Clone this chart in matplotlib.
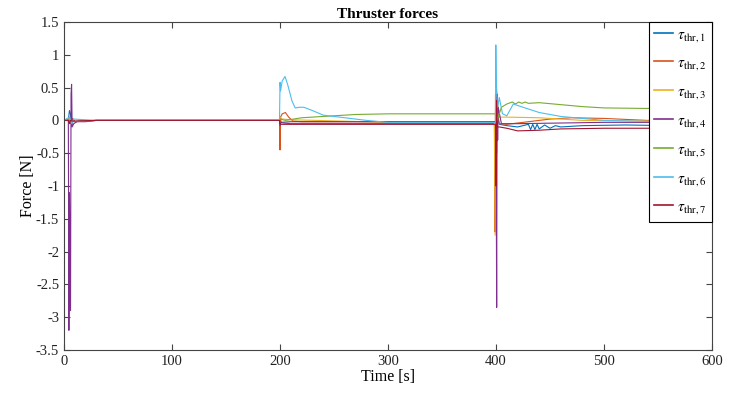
import numpy as np
import matplotlib.pyplot as plt

plt.rcParams['font.family'] = ['Liberation Serif', 'DejaVu Serif']
plt.rcParams['mathtext.fontset'] = 'stix'

# thruster force histories (time [s], force [N])
t1 = [0, 4, 5, 6, 7, 8, 10, 15, 30, 199.5, 200, 201, 203, 210, 230, 300, 399.5,
      400, 400.5, 401, 403, 410, 420, 430, 432, 434, 436, 438, 440, 445, 450, 455,
      460, 480, 520, 560, 600]
f1 = [0, 0, 0.15, 0.1, -0.05, 0.02, -0.02, -0.01, 0, 0, 0.05, -0.03, -0.04, -0.05,
      -0.05, -0.05, -0.05, 0.3, -0.5, 0.1, -0.06, -0.08, -0.1, -0.06, -0.14, -0.06,
      -0.14, -0.06, -0.13, -0.07, -0.12, -0.08, -0.1, -0.08, -0.07, -0.08, -0.07]

t2 = [0, 5, 6, 8, 10, 30, 199.5, 200, 200.5, 202, 205, 208, 212, 220, 300, 398.5,
      399, 399.5, 400.8, 401.5, 403, 410, 430, 450, 470, 500, 540, 600]
f2 = [0, 0, -0.05, 0.03, -0.02, 0, 0, -0.45, 0.05, 0.1, 0.12, 0.05, -0.01, -0.02,
      -0.02, -0.02, -1.7, 0.4, -0.2, 0.1, -0.05, -0.06, -0.02, 0.02, 0.04, 0.03, 0.0, 0.0]

t3 = [0, 5, 8, 30, 199.5, 200, 202, 210, 300, 398.5, 399.2, 400.4, 401, 403, 410,
      440, 480, 600]
f3 = [0, 0.03, -0.02, 0, 0, 0.05, 0.02, 0.01, -0.03, -0.03, -1.75, 0.5, 0.35, 0.05,
      0.05, 0.04, 0.0, -0.02]

t4 = [0, 4, 4.5, 5, 6, 6.5, 7, 7.5, 9, 12, 20, 30, 199.5, 200, 201, 210, 300, 400,
      400.6, 401, 401.5, 402, 405, 420, 500, 600]
f4 = [0, 0, -3.2, -1.1, -2.9, 0.4, 0.55, -0.1, -0.05, -0.02, -0.02, 0, 0, -0.08,
      -0.03, -0.02, -0.02, -0.02, -2.85, 0.4, -0.3, 0.2, -0.05, -0.05, -0.03, -0.03]

t5 = [0, 5, 8, 30, 199.5, 200, 205, 220, 250, 270, 300, 399.5, 400, 400.5, 401, 403,
      405, 410, 415, 418, 421, 424, 427, 430, 440, 460, 480, 500, 550, 600]
f5 = [0, 0.02, -0.02, 0, 0, 0.02, 0.0, 0.04, 0.07, 0.09, 0.1, 0.1, -0.5, 0.3, 0.0,
      0.1, 0.2, 0.25, 0.28, 0.25, 0.28, 0.26, 0.28, 0.26, 0.27, 0.24, 0.21, 0.19, 0.18, 0.17]

t6 = [0, 5, 7, 9, 30, 199.5, 200, 200.5, 202, 204.6, 207, 211, 214, 218, 222, 230,
      240, 260, 280, 300, 399.5, 399.8, 400.2, 400.6, 401.5, 403, 406, 410, 416, 425,
      440, 460, 500, 550, 600]
f6 = [0, 0.05, -0.05, 0.02, 0, 0, 0.58, 0.45, 0.6, 0.67, 0.55, 0.3, 0.19, 0.2, 0.2,
      0.15, 0.08, 0.04, 0.0, -0.03, -0.03, 1.15, 0.6, 0.45, 0.2, 0.35, 0.1, 0.07, 0.25,
      0.2, 0.12, 0.06, 0.0, -0.02, -0.02]

t7 = [0, 4, 5, 6, 8, 30, 199.5, 200, 201, 210, 300, 399.5, 400, 400.5, 401, 403, 410,
      420, 440, 460, 500, 600]
f7 = [0, 0, -0.05, 0.0, -0.01, 0, 0, -0.05, -0.06, -0.06, -0.06, -0.06, -1.0, 0.3,
      -0.1, -0.1, -0.12, -0.16, -0.15, -0.13, -0.12, -0.12]

times = [t1, t2, t3, t4, t5, t6, t7]
forces = [f1, f2, f3, f4, f5, f6, f7]
labels = [r'$\tau_{\mathrm{thr},%d}$' % (i + 1) for i in range(7)]
colors = ['#0072BD', '#D95319', '#EDB120', '#7E2F8E', '#77AC30', '#4DBEEE', '#A2142F']

fig = plt.figure(figsize=(7.48, 3.99), dpi=100)
ax = fig.add_axes([0.0856, 0.1228, 0.8663, 0.8221])
for t, f, c, lab in zip(times, forces, colors, labels):
    ax.plot(t, f, color=c, lw=0.8, label=lab)

ax.set_xlim(0, 600)
ax.set_ylim(-3.5, 1.5)
ax.set_xticks(range(0, 700, 100))
ax.set_yticks(np.arange(-3.5, 1.6, 0.5))
ax.set_yticklabels(['-3.5', '-3', '-2.5', '-2', '-1.5', '-1', '-0.5', '0', '0.5', '1', '1.5'])
ax.tick_params(direction='in', top=True, right=True, labelsize=10.5, length=4,
               color='#444444', labelcolor='#222222')
for s in ax.spines.values():
    s.set_color('#444444')
ax.set_xlabel('Time [s]', fontsize=11.5, labelpad=1)
ax.set_ylabel('Force [N]', fontsize=11.5, labelpad=0)
ax.set_title('Thruster forces', fontsize=11, fontweight='bold', pad=3)
leg = ax.legend(loc='upper right', fontsize=11, labelspacing=0.82, handlelength=1.2,
                handletextpad=0.3, borderaxespad=0, fancybox=False, framealpha=1,
                edgecolor='black', borderpad=0.35)
leg.get_frame().set_linewidth(0.8)
for line in leg.get_lines():
    line.set_linewidth(1.2)

fig.savefig('out.png', dpi=100)
